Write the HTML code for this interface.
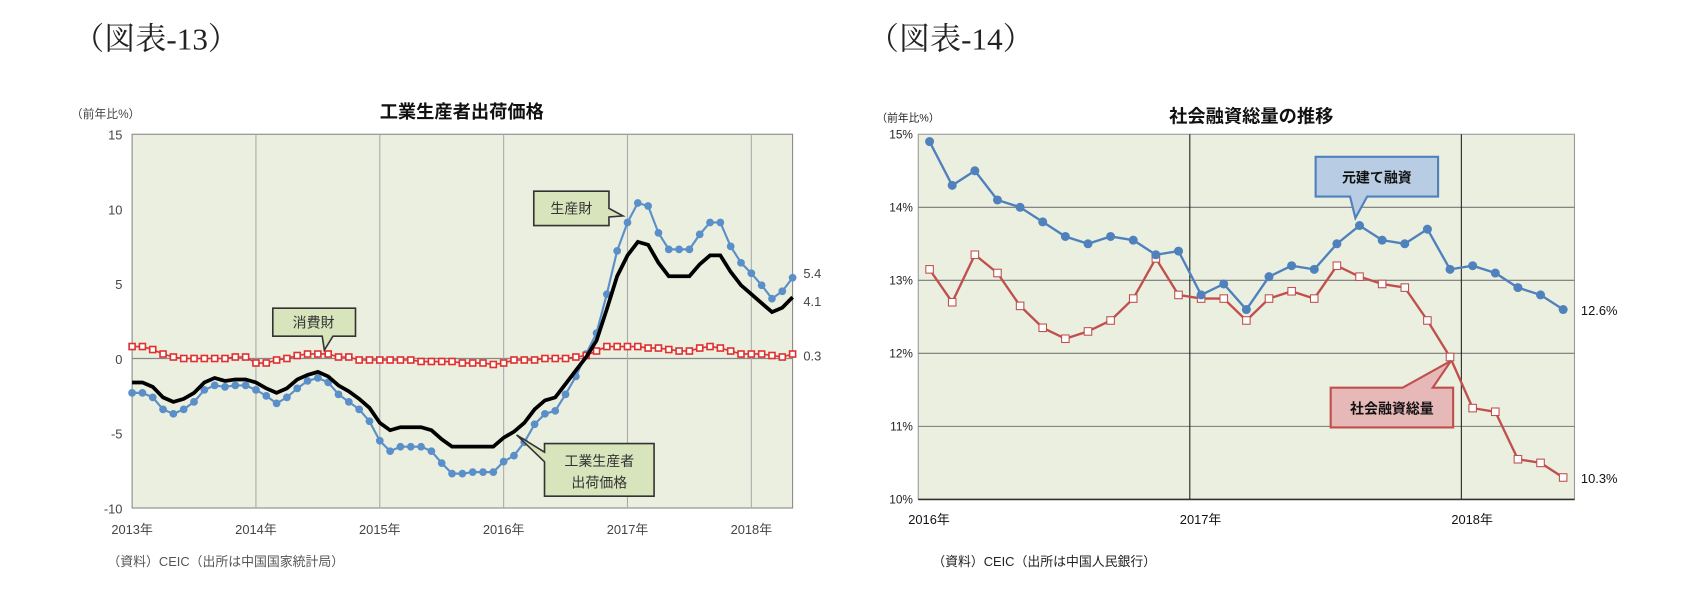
<!DOCTYPE html>
<html><head><meta charset="utf-8">
<style>
html,body{margin:0;padding:0;background:#fff;width:1684px;height:606px;overflow:hidden}
svg text{font-family:"Liberation Sans","Noto Sans CJK JP",sans-serif}
.ser{font-family:"Liberation Serif","Noto Serif CJK SC",serif}
</style></head>
<body>
<svg id="svg" width="1684" height="606" xmlns="http://www.w3.org/2000/svg">
<g transform="scale(1.074)">
<text class="ser" x="68" y="46" font-size="29" fill="#222">（図表-13）</text>
<text class="ser" x="808" y="46" font-size="29" fill="#222">（図表-14）</text>
<text x="430" y="110" font-size="17" font-weight="bold" text-anchor="middle" fill="#111">工業生産者出荷価格</text>
<text x="66" y="110" font-size="11" fill="#444">（前年比%）</text>
<text x="1165" y="114" font-size="17" font-weight="bold" text-anchor="middle" fill="#111">社会融資総量の推移</text>
<text x="816" y="113" font-size="10" fill="#222">（前年比%）</text>
<text x="100" y="527" font-size="12" fill="#555">（資料）CEIC（出所は中国国家統計局）</text>
<text x="868" y="527" font-size="12" fill="#222">（資料）CEIC（出所は中国人民銀行）</text>
<g id="c1"></g><g id="c2"></g>
</g>
</svg>
<script>
// ---- Chart 1 data (monthly 2013-01 .. 2018-05)
const c1Years = ["2013年","2014年","2015年","2016年","2017年","2018年"];
const c1Ticks = [15,10,5,0,-5,-10];
const ppi = [-1.6,-1.6,-1.9,-2.6,-2.9,-2.7,-2.3,-1.6,-1.3,-1.5,-1.4,-1.4,
 -1.6,-2.0,-2.3,-2.0,-1.4,-1.1,-0.9,-1.2,-1.8,-2.2,-2.7,-3.3,
 -4.3,-4.8,-4.6,-4.6,-4.6,-4.8,-5.4,-5.9,-5.9,-5.9,-5.9,-5.9,
 -5.3,-4.9,-4.3,-3.4,-2.8,-2.6,-1.7,-0.8,0.1,1.2,3.3,5.5,
 6.9,7.8,7.6,6.4,5.5,5.5,5.5,6.3,6.9,6.9,5.8,4.9,
 4.3,3.7,3.1,3.4,4.1];
const producer = [-2.3,-2.3,-2.6,-3.4,-3.7,-3.4,-2.9,-2.1,-1.8,-1.9,-1.8,-1.8,
 -2.1,-2.5,-3.0,-2.6,-2.0,-1.5,-1.3,-1.6,-2.4,-2.9,-3.4,-4.2,
 -5.5,-6.2,-5.9,-5.9,-5.9,-6.2,-7.0,-7.7,-7.7,-7.6,-7.6,-7.6,
 -6.9,-6.5,-5.6,-4.4,-3.7,-3.5,-2.4,-1.2,0.3,1.7,4.3,7.2,
 9.1,10.4,10.2,8.4,7.3,7.3,7.3,8.3,9.1,9.1,7.5,6.4,
 5.7,4.9,4.0,4.5,5.4];
const consumer = [0.8,0.8,0.6,0.3,0.1,0.0,0.0,0.0,0.0,0.0,0.1,0.1,
 -0.3,-0.3,-0.1,0.0,0.2,0.3,0.3,0.3,0.1,0.1,-0.1,-0.1,
 -0.1,-0.1,-0.1,-0.1,-0.2,-0.2,-0.2,-0.2,-0.3,-0.3,-0.3,-0.4,
 -0.3,-0.1,-0.1,-0.1,0.0,0.0,0.0,0.1,0.2,0.5,0.8,0.8,
 0.8,0.8,0.7,0.7,0.6,0.5,0.5,0.7,0.8,0.7,0.5,0.3,
 0.3,0.3,0.2,0.1,0.3];
// ---- Chart 2 data (monthly 2016-01 .. 2018-05)
const c2Years = ["2016年","2017年","2018年"];
const c2Ticks = [15,14,13,12,11,10];
const loans = [14.9,14.3,14.5,14.1,14.0,13.8,13.6,13.5,13.6,13.55,13.35,13.4,
 12.8,12.95,12.6,13.05,13.2,13.15,13.5,13.75,13.55,13.5,13.7,13.15,
 13.2,13.1,12.9,12.8,12.6];
const tsf = [13.15,12.7,13.35,13.1,12.65,12.35,12.2,12.3,12.45,12.75,13.3,12.8,
 12.75,12.75,12.45,12.75,12.85,12.75,13.2,13.05,12.95,12.9,12.45,11.95,
 11.25,11.2,10.55,10.5,10.3];

const NS="http://www.w3.org/2000/svg";
function mk(parent,tag,attrs,text){const e=document.createElementNS(NS,tag);for(const k in attrs)e.setAttribute(k,attrs[k]);if(text!==undefined)e.textContent=text;parent.appendChild(e);return e;}

// ===== Chart 1
(function(){
const g=document.getElementById('c1');
const L=123,R=738,T=125,B=473,ymax=15,ymin=-10;
const y=v=>T+(ymax-v)/(ymax-ymin)*(B-T);
const x=i=>L+i*(R-L)/64;
const bg=mk(g,'rect',{x:L,y:T,width:R-L,height:B-T,fill:'#ebefdf',stroke:'#888'});


c1Ticks.forEach(t=>{
 const tl=mk(g,'text',{x:L-9,y:y(t)+5,'font-size':12,'text-anchor':'end',fill:'#444'},String(t));
 
 
});
const z=mk(g,'line',{x1:L,x2:R,y1:y(0),y2:y(0),stroke:'#888','stroke-width':1.2});


c1Years.forEach((yr,k)=>{
 const xx=x(k*12);
 if(k>0){const gl=mk(g,'line',{x1:xx,x2:xx,y1:T,y2:B,stroke:'#aaa'});
 
 }
 const tl=mk(g,'text',{x:xx,y:B+24,'font-size':12,'text-anchor':'middle',fill:'#444'},yr);
 
 
});
const pts=a=>a.map((v,i)=>x(i).toFixed(1)+','+y(v).toFixed(1)).join(' ');
const pl=mk(g,'polyline',{points:pts(producer),fill:'none',stroke:'#5b8fc9','stroke-width':2});


producer.forEach((v,i)=>{const c=mk(g,'circle',{cx:x(i),cy:y(v),r:3.6,fill:'#5b8fc9'});
 
 });
const cl=mk(g,'polyline',{points:pts(consumer),fill:'none',stroke:'#e03030','stroke-width':1.5});


consumer.forEach((v,i)=>{const r=mk(g,'rect',{x:x(i)-2.8,y:y(v)-2.8,width:5.6,height:5.6,fill:'#fff',stroke:'#e03030','stroke-width':1.5});
 
 });
const kl=mk(g,'polyline',{points:pts(ppi),fill:'none',stroke:'#000','stroke-width':3.5});


[[producer,'5.4',-4],[ppi,'4.1',4],[consumer,'0.3',2]].forEach(([a,t,d])=>{
 const e=mk(g,'text',{x:R+10,y:y(a[a.length-1])+4+d,'font-size':12,fill:'#444'},t);
 
 });
function callout(name,pts,tx,ty,lines){
 const p=mk(g,'polygon',{points:pts,fill:'#d8e4bc',stroke:'#333','stroke-width':1.5});
 
 
 lines.forEach((s,j)=>{const t=mk(g,'text',{x:tx,y:ty+j*20,'font-size':13,'text-anchor':'middle',fill:'#333'},s);
 
 });
}
callout('producer-goods-callout','497,178 567,178 567,194 580,201 567,202 567,210 497,210',532,199,['生産財']);
callout('consumer-goods-callout','254,287 331,287 331,313 310,313 302,326 300,313 254,313',292,305,['消費財']);
callout('ppi-callout','507,413 609,413 609,462 507,462 507,430 481,405 507,421',558,434,['工業生産者','出荷価格']);
})();

// ===== Chart 2
(function(){
const g=document.getElementById('c2');
const L=855,R=1466,T=125,B=465,ymax=15,ymin=10,N=29;
const y=v=>T+(ymax-v)/(ymax-ymin)*(B-T);
const mw=(R-L)/N;
const x=i=>L+(i+0.5)*mw;
const bg=mk(g,'rect',{x:L,y:T,width:R-L,height:B-T,fill:'#ebefdf',stroke:'#999'});


c2Ticks.forEach(t=>{
 if(t<ymax&&t>ymin){const gl=mk(g,'line',{x1:L,x2:R,y1:y(t),y2:y(t),stroke:'#777'});
 
 }
 const tl=mk(g,'text',{x:L-5,y:y(t)+4,'font-size':11,'text-anchor':'end',fill:'#222'},t+'%');
 
 
});
const ax=mk(g,'line',{x1:L,x2:R,y1:B,y2:B,stroke:'#333','stroke-width':1.5});


c2Years.forEach((yr,k)=>{
 const xx=L+k*12*mw;
 if(k>0){const gl=mk(g,'line',{x1:xx,x2:xx,y1:T,y2:B,stroke:'#222'});
 
 }
 const tl=mk(g,'text',{x:xx+10,y:B+23,'font-size':12,'text-anchor':'middle',fill:'#111'},yr);
 
 
});
const pts=a=>a.map((v,i)=>x(i).toFixed(1)+','+y(v).toFixed(1)).join(' ');
const rl=mk(g,'polyline',{points:pts(tsf),fill:'none',stroke:'#c0504d','stroke-width':2.2});


tsf.forEach((v,i)=>{const r=mk(g,'rect',{x:x(i)-3.5,y:y(v)-3.5,width:7,height:7,fill:'#fff',stroke:'#c0504d','stroke-width':1});
 
 });
const bl=mk(g,'polyline',{points:pts(loans),fill:'none',stroke:'#4f81bd','stroke-width':2.2});


loans.forEach((v,i)=>{const c=mk(g,'circle',{cx:x(i),cy:y(v),r:4.2,fill:'#4f81bd'});
 
 });
[[loans,'12.6%'],[tsf,'10.3%']].forEach(([a,t])=>{
 const e=mk(g,'text',{x:R+6,y:y(a[a.length-1])+5,'font-size':12,fill:'#111'},t);
 
 });
const p1=mk(g,'polygon',{points:'1225,146 1339,146 1339,183 1273,183 1262,203 1257,183 1225,183',fill:'#b8cce4',stroke:'#4f81bd','stroke-width':2});


const t1=mk(g,'text',{x:1282,y:170,'font-size':13,'font-weight':'bold','text-anchor':'middle',fill:'#111'},'元建て融資');


const p2=mk(g,'polygon',{points:'1239,361 1306,361 1351,336 1334,361 1353,361 1353,398 1239,398',fill:'#e6b9b8',stroke:'#c0504d','stroke-width':2});


const t2=mk(g,'text',{x:1296,y:385,'font-size':13,'font-weight':'bold','text-anchor':'middle',fill:'#111'},'社会融資総量');


})();
</script>
</body></html>
